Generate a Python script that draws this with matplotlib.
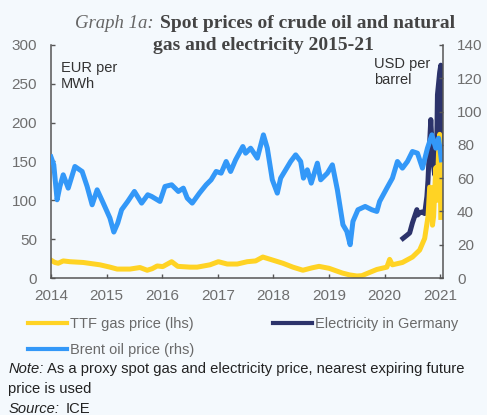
import matplotlib
matplotlib.use("Agg")
import matplotlib.pyplot as plt
import numpy as np

# Brent oil price, USD per barrel (rhs)
brent_x = [2014.00, 2014.05, 2014.11, 2014.16, 2014.22, 2014.31, 2014.43, 2014.56, 2014.65,
           2014.74, 2014.83, 2014.94, 2015.06, 2015.13, 2015.20, 2015.27, 2015.38, 2015.50,
           2015.63, 2015.74, 2015.81, 2015.96, 2016.05, 2016.17, 2016.29, 2016.38, 2016.45,
           2016.54, 2016.67, 2016.79, 2016.88, 2016.97, 2017.06, 2017.15, 2017.23, 2017.32,
           2017.45, 2017.50, 2017.59, 2017.71, 2017.82, 2017.89, 2017.98, 2018.07, 2018.13,
           2018.22, 2018.31, 2018.40, 2018.49, 2018.54, 2018.61, 2018.68, 2018.79, 2018.85,
           2018.97, 2019.06, 2019.15, 2019.25, 2019.32, 2019.38, 2019.43, 2019.52, 2019.65,
           2019.77, 2019.86, 2019.91, 2020.04, 2020.14, 2020.23, 2020.32, 2020.41, 2020.50,
           2020.59, 2020.68, 2020.77, 2020.85, 2020.92, 2020.97, 2021.02]
brent_y = [72.7, 68, 47, 55, 62, 54, 67, 64, 55,
           44, 53, 45, 36, 27.6, 33, 41, 46, 52,
           45, 50, 49, 46, 55, 56, 52, 54, 48,
           45, 51, 56, 59, 64, 63, 70, 64, 71,
           79, 75, 78, 72, 86, 78, 59, 51, 60,
           65, 70, 74, 70, 60, 65, 57, 69, 59,
           63, 68, 53, 32, 28, 20, 34, 41, 43,
           41, 40, 46, 54, 60, 70, 66, 70, 76,
           75, 66, 78, 86, 78, 84, 71]

# TTF gas price, EUR per MWh (lhs)
ttf_x = [2014.00, 2014.07, 2014.13, 2014.22, 2014.34, 2014.58, 2014.88, 2015.06, 2015.19,
         2015.42, 2015.60, 2015.73, 2015.82, 2015.91, 2016.01, 2016.17, 2016.28, 2016.50,
         2016.63, 2016.86, 2017.01, 2017.17, 2017.35, 2017.53, 2017.68, 2017.81, 2017.99,
         2018.17, 2018.35, 2018.53, 2018.69, 2018.82, 2019.00, 2019.24, 2019.37, 2019.50,
         2019.59, 2019.68, 2019.86, 2020.04, 2020.09, 2020.14, 2020.32, 2020.50, 2020.63,
         2020.72, 2020.78, 2020.81, 2020.85, 2020.86, 2020.88, 2020.92, 2020.94, 2020.97,
         2020.99, 2021.01]
ttf_y = [23, 20, 19, 22, 21, 20, 17, 14, 11.5,
         11.5, 13.5, 10, 12, 15.5, 14.7, 21, 15, 14,
         14, 17, 21, 18, 18, 21, 22, 27, 23,
         19, 14, 10, 13, 15, 12.5, 6.4, 4, 2.6,
         3, 5.7, 11, 14, 24, 17, 20, 27, 36,
         51, 79, 117, 116, 68, 79, 142, 100, 162,
         185, 78]

# Electricity in Germany, EUR per MWh (lhs)
elec_x = [2020.33, 2020.40, 2020.45, 2020.50, 2020.58, 2020.59, 2020.63, 2020.67, 2020.72,
          2020.76, 2020.78, 2020.81, 2020.83, 2020.85, 2020.86, 2020.90, 2020.94, 2020.95,
          2020.99, 2021.01, 2021.02]
elec_y = [51, 55, 58, 71, 88, 81, 84, 85, 83,
          105, 126, 175, 204, 175, 155, 133, 188, 236,
          265, 274, 160]

lhs_ticks = [0, 50, 100, 150, 200, 250, 300]
rhs_ticks = [0, 20, 40, 60, 80, 100, 120, 140]
year_ticks = [2014, 2015, 2016, 2017, 2018, 2019, 2020, 2021]

bg = "#f4f9fd"
yellow = "#ffd324"
navy = "#2c336b"
blue = "#3398f8"
spine_col = "#555555"
tick_col = "#6e6e6e"

plt.rcParams["font.family"] = ["Liberation Sans", "DejaVu Sans"]

fig = plt.figure(figsize=(4.87, 4.15), dpi=100, facecolor=bg)
ax = fig.add_axes([0.1047, 0.3301, 0.8050, 0.5615])
ax.set_facecolor(bg)
ax2 = ax.twinx()

l_elec, = ax.plot(elec_x, elec_y, color=navy, lw=3.6, solid_joinstyle="round")
l_ttf, = ax.plot(ttf_x, ttf_y, color=yellow, lw=3.6, solid_joinstyle="round")
l_brent, = ax2.plot(brent_x, brent_y, color=blue, lw=3.6, solid_joinstyle="round")

ax.set_xlim(2014, 2021.05)
ax.set_ylim(0, 300)
ax2.set_ylim(0, 140)
ax.set_xticks(year_ticks)
ax.set_xticklabels([str(y) for y in year_ticks])
ax.set_yticks(lhs_ticks)
ax2.set_yticks(rhs_ticks)

for a in (ax, ax2):
    a.spines["top"].set_visible(False)
    for s in a.spines.values():
        s.set_color(spine_col)
        s.set_linewidth(1.1)
ax.spines["right"].set_visible(False)
ax2.spines["left"].set_visible(False)
ax2.spines["bottom"].set_visible(False)

ax.tick_params(axis="y", direction="in", length=3, width=1, color=spine_col,
               labelsize=11, labelcolor=tick_col, pad=10)
ax.tick_params(axis="x", direction="in", length=3, width=1, color=spine_col,
               labelsize=11, labelcolor=tick_col, pad=8)
ax2.tick_params(axis="y", direction="in", length=3, width=1, color=spine_col,
                labelsize=11, labelcolor=tick_col, pad=10)

ax.text(0.025, 0.93, "EUR per\nMWh", transform=ax.transAxes, fontsize=10.5,
        color="#333333", va="top", ha="left", linespacing=1.2)
ax2.text(0.825, 0.95, "USD per\nbarrel", transform=ax.transAxes, fontsize=10.5,
         color="#333333", va="top", ha="left", linespacing=1.2)

# title: italic prefix + bold text
fig.text(0.154, 0.932, "Graph 1a:", family="Liberation Serif", style="italic",
         fontsize=13.5, color="#666666", ha="left", va="baseline")
fig.text(0.3285, 0.932, "Spot prices of crude oil and natural", family="Liberation Serif",
         weight="bold", fontsize=14, color="#444444", ha="left", va="baseline")
fig.text(0.540, 0.8795, "gas and electricity 2015-21", family="Liberation Serif",
         weight="bold", fontsize=14, color="#444444", ha="center", va="baseline")

leg = fig.legend([l_ttf, l_brent, l_elec],
                 ["TTF gas price (lhs)", "Brent oil price (rhs)", "Electricity in Germany"],
                 ncol=2, loc="upper left", bbox_to_anchor=(0.057, 0.235),
                 frameon=False, fontsize=10.5, handlelength=2.7, handletextpad=0.2,
                 columnspacing=5.4, labelspacing=0.8, borderaxespad=0, borderpad=0)
for t in leg.get_texts():
    t.set_color("#6a6a6a")
for h in leg.legend_handles:
    h.set_linewidth(3.0)

fig.text(0.017, 0.101, "Note:", style="italic", fontsize=10.6, color="#222222",
         ha="left", va="baseline")
fig.text(0.097, 0.101, "As a proxy spot gas and electricity price, nearest expiring future",
         fontsize=10.6, color="#222222", ha="left", va="baseline")
fig.text(0.017, 0.053, "price is used", fontsize=10.6, color="#222222",
         ha="left", va="baseline")
fig.text(0.017, 0.006, "Source:", style="italic", fontsize=10.6, color="#222222",
         ha="left", va="baseline")
fig.text(0.134, 0.006, "ICE", fontsize=10.6, color="#222222", ha="left", va="baseline")

fig.savefig("out.png", dpi=100, facecolor=bg)
